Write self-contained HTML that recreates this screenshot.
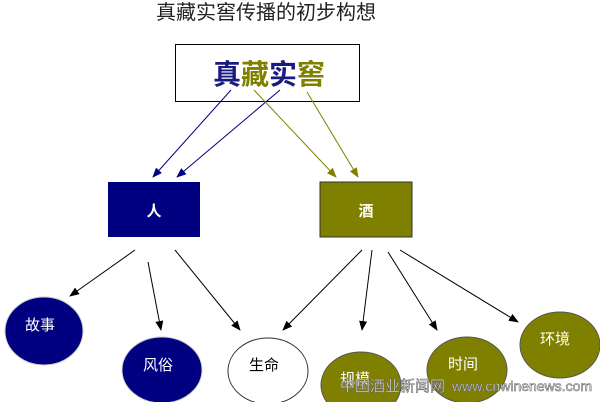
<!DOCTYPE html>
<html><head><meta charset="utf-8"><style>
html,body{margin:0;padding:0;background:#fff;width:600px;height:402px;overflow:hidden}
text{font-family:"Liberation Sans","Noto Sans CJK SC",sans-serif}
</style></head><body>
<svg width="600" height="402" viewBox="0 0 600 402" xmlns="http://www.w3.org/2000/svg">
<defs>
<marker id="ab" markerWidth="10" markerHeight="8" refX="9" refY="4" orient="auto" markerUnits="userSpaceOnUse"><path d="M0,0 L10,4 L0,8 Z" fill="#000080"/></marker>
<marker id="ao" markerWidth="10" markerHeight="8" refX="9" refY="4" orient="auto" markerUnits="userSpaceOnUse"><path d="M0,0 L10,4 L0,8 Z" fill="#808000"/></marker>
<marker id="ak" markerWidth="10" markerHeight="8" refX="9" refY="4" orient="auto" markerUnits="userSpaceOnUse"><path d="M0,0 L10,4 L0,8 Z" fill="#000"/></marker>
</defs>
<text x="156" y="19" font-size="20" fill="#222">真藏实窖传播的初步构想</text>
<rect x="175.5" y="44.5" width="184" height="57" fill="#fff" stroke="#000"/>
<text x="213" y="84" font-size="28" font-weight="bold"><tspan fill="#1a1a80">真</tspan><tspan fill="#808000">藏</tspan><tspan fill="#1a1a80">实</tspan><tspan fill="#808000">窖</tspan></text>
<g stroke-width="1">
<line x1="231" y1="90" x2="153" y2="177" stroke="#000080" marker-end="url(#ab)"/>
<line x1="280" y1="90" x2="177" y2="177" stroke="#000080" marker-end="url(#ab)"/>
<line x1="254" y1="90" x2="336" y2="177" stroke="#808000" marker-end="url(#ao)"/>
<line x1="307" y1="92" x2="358" y2="177" stroke="#808000" marker-end="url(#ao)"/>
</g>
<rect x="108" y="182" width="92" height="55" fill="#000080"/>
<text x="154" y="216" font-size="15" font-weight="bold" fill="#fff" text-anchor="middle">人</text>
<rect x="320" y="182" width="92" height="55" fill="#808000" stroke="#333"/>
<text x="366" y="216" font-size="15" font-weight="bold" fill="#fff" text-anchor="middle">酒</text>
<g stroke="#000" stroke-width="1">
<line x1="135" y1="250" x2="70" y2="296" marker-end="url(#ak)"/>
<line x1="148" y1="262" x2="161" y2="330" marker-end="url(#ak)"/>
<line x1="175" y1="250" x2="240" y2="330" marker-end="url(#ak)"/>
<line x1="362" y1="250" x2="283" y2="330" marker-end="url(#ak)"/>
<line x1="372" y1="250" x2="362" y2="330" marker-end="url(#ak)"/>
<line x1="388" y1="252" x2="437" y2="330" marker-end="url(#ak)"/>
<line x1="400" y1="250" x2="518" y2="322" marker-end="url(#ak)"/>
</g>
<g font-size="15" text-anchor="middle">
<ellipse cx="44" cy="331" rx="39" ry="34" fill="#000080" stroke="#ccc"/><text x="40" y="330" fill="#fff">故事</text>
<ellipse cx="162" cy="370" rx="40" ry="33" fill="#000080" stroke="#ccc"/><text x="158" y="370" fill="#fff">风俗</text>
<ellipse cx="268" cy="371" rx="40" ry="33" fill="#fff" stroke="#333"/><text x="264" y="370" fill="#000">生命</text>
<ellipse cx="361" cy="385" rx="40" ry="33" fill="#808000" stroke="#555"/><text x="355" y="384" fill="#fff">规模</text>
<ellipse cx="467" cy="370" rx="40" ry="33" fill="#808000" stroke="#555"/><text x="463" y="369" fill="#fff">时间</text>
<ellipse cx="560" cy="345" rx="40" ry="33" fill="#808000" stroke="#555"/><text x="555" y="344" fill="#fff">环境</text>
</g>
<text x="340" y="391" font-size="15" fill="#fff" stroke="#666" stroke-width="0.6">中国酒业新闻网</text>
<text x="452" y="391" font-size="14" fill="#fff" stroke="#666" stroke-width="0.6" font-family="Liberation Mono,monospace">www.cnwinenews.com</text>
</svg>
</body></html>
